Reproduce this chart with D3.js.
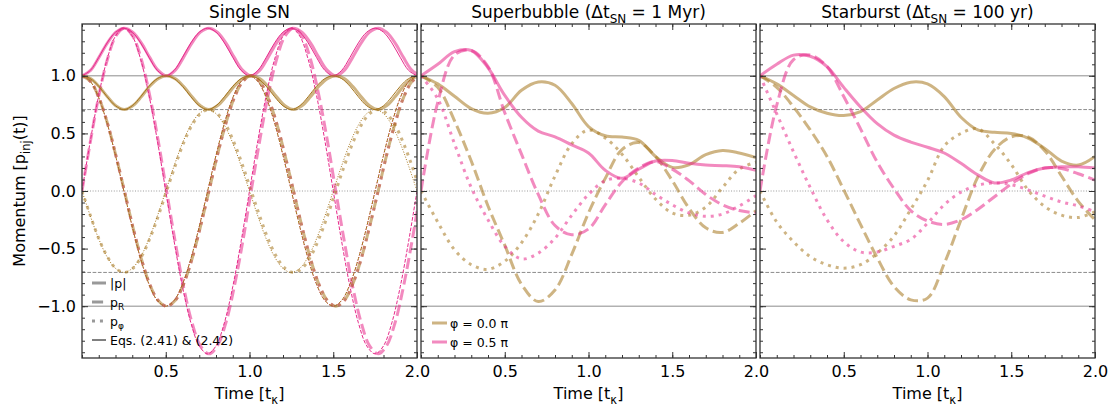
<!DOCTYPE html>
<html>
<head>
<meta charset="utf-8">
<script src="https://cdnjs.cloudflare.com/ajax/libs/d3/7.8.5/d3.min.js"></script>
<style>
  body { margin: 0; background: #fff; }
  svg text { font-family: "DejaVu Sans", sans-serif; fill: #000; }
</style>
</head>
<body>
<svg id="chart" width="1119" height="412"></svg>
<script>
// ---- data ----
var timeSingle = [0,0.05,0.1,0.15,0.2,0.25,0.3,0.35,0.4,0.45,0.5,0.55,0.6,0.65,0.7,0.75,0.8,0.85,0.9,0.95,
                  1,1.05,1.1,1.15,1.2,1.25,1.3,1.35,1.4,1.45,1.5,1.55,1.6,1.65,1.7,1.75,1.8,1.85,1.9,1.95,2];
// simulation curves of the single SN run lag the equations a little
var timeSingleSim = [0,0.051,0.101,0.152,0.202,0.253,0.303,0.354,0.404,0.455,0.505,0.556,0.606,0.657,0.707,0.758,
                     0.808,0.859,0.909,0.960,1.010,1.061,1.111,1.162,1.212,1.263,1.313,1.364,1.414,1.465,1.515,
                     1.566,1.616,1.667,1.717,1.768,1.818,1.869,1.919,1.970,2.020];

var singleGoldAbs = [1,0.976,0.909,0.818,0.74,0.707,0.74,0.818,0.909,0.976,
                     1,0.976,0.909,0.818,0.74,0.707,0.74,0.818,0.909,0.976,
                     1,0.976,0.909,0.818,0.74,0.707,0.74,0.818,0.909,0.976,
                     1,0.976,0.909,0.818,0.74,0.707,0.74,0.818,0.909,0.976,1];
var singleGoldR = [1,0.951,0.809,0.588,0.309,0,-0.309,-0.588,-0.809,-0.951,
                   -1,-0.951,-0.809,-0.588,-0.309,0,0.309,0.588,0.809,0.951,
                   1,0.951,0.809,0.588,0.309,0,-0.309,-0.588,-0.809,-0.951,
                   -1,-0.951,-0.809,-0.588,-0.309,0,0.309,0.588,0.809,0.951,1];
var singleGoldPhi = [0,-0.218,-0.416,-0.572,-0.672,-0.707,-0.672,-0.572,-0.416,-0.218,
                     0,0.218,0.416,0.572,0.672,0.707,0.672,0.572,0.416,0.218,
                     0,-0.218,-0.416,-0.572,-0.672,-0.707,-0.672,-0.572,-0.416,-0.218,
                     0,0.218,0.416,0.572,0.672,0.707,0.672,0.572,0.416,0.218,0];
var singlePinkAbs = [1,1.047,1.16,1.286,1.379,1.414,1.379,1.286,1.16,1.047,
                     1,1.047,1.16,1.286,1.379,1.414,1.379,1.286,1.16,1.047,
                     1,1.047,1.16,1.286,1.379,1.414,1.379,1.286,1.16,1.047,
                     1,1.047,1.16,1.286,1.379,1.414,1.379,1.286,1.16,1.047,1];
var singlePinkR = [0,0.437,0.831,1.144,1.345,1.414,1.345,1.144,0.831,0.437,
                   0,-0.437,-0.831,-1.144,-1.345,-1.414,-1.345,-1.144,-0.831,-0.437,
                   0,0.437,0.831,1.144,1.345,1.414,1.345,1.144,0.831,0.437,
                   0,-0.437,-0.831,-1.144,-1.345,-1.414,-1.345,-1.144,-0.831,-0.437,0];
var singlePinkPhi = [1,0.951,0.809,0.588,0.309,0,-0.309,-0.588,-0.809,-0.951,
                     -1,-0.951,-0.809,-0.588,-0.309,0,0.309,0.588,0.809,0.951,
                     1,0.951,0.809,0.588,0.309,0,-0.309,-0.588,-0.809,-0.951,
                     -1,-0.951,-0.809,-0.588,-0.309,0,0.309,0.588,0.809,0.951,1];

var timeRun = [0,0.1,0.2,0.3,0.4,0.5,0.6,0.7,0.8,0.9,1,1.1,1.2,1.3,1.4,1.5,1.6,1.7,1.8,1.9,2];

var bubbleGoldAbs = [1,0.93,0.823,0.716,0.675,0.725,0.875,0.947,0.918,0.76,0.56,0.48,0.468,0.44,0.3,0.205,0.228,0.315,0.352,0.33,0.29];
var bubbleGoldR   = [1,0.9,0.61,0.26,-0.13,-0.47,-0.81,-0.96,-0.86,-0.55,-0.19,0.11,0.36,0.42,0.3,0.09,-0.15,-0.32,-0.36,-0.28,-0.17];
var bubbleGoldPhi = [0,-0.27,-0.51,-0.64,-0.68,-0.61,-0.45,-0.2,0.13,0.41,0.53,0.46,0.32,0.12,-0.07,-0.19,-0.21,-0.14,0.03,0.19,0.25];
var bubblePinkAbs = [1,1.1,1.21,1.22,1.07,0.83,0.64,0.52,0.47,0.4,0.33,0.18,0.11,0.19,0.26,0.265,0.24,0.225,0.22,0.21,0.18];
var bubblePinkR   = [0,0.77,1.18,1.22,1.08,0.68,0.32,-0.03,-0.3,-0.38,-0.33,-0.12,0.08,0.2,0.255,0.19,0.09,-0.03,-0.12,-0.17,-0.19];
var bubblePinkPhi = [1,0.8,0.41,0.03,-0.25,-0.48,-0.59,-0.54,-0.41,-0.21,-0.03,0.09,0.11,0.07,-0.03,-0.12,-0.19,-0.22,-0.2,-0.13,-0.04];

var burstGoldAbs = [1,0.93,0.83,0.73,0.675,0.655,0.69,0.79,0.89,0.945,0.93,0.82,0.64,0.53,0.51,0.5,0.46,0.37,0.26,0.225,0.3];
var burstGoldR   = [1,0.9,0.73,0.53,0.3,0.01,-0.29,-0.58,-0.83,-0.945,-0.93,-0.63,-0.25,0.12,0.36,0.47,0.47,0.35,0.13,-0.09,-0.25];
var burstGoldPhi = [0,-0.27,-0.44,-0.57,-0.64,-0.67,-0.64,-0.54,-0.39,-0.16,0.09,0.39,0.5,0.54,0.41,0.23,0.01,-0.135,-0.21,-0.23,-0.18];
var burstPinkAbs = [1,1.1,1.18,1.17,1.08,0.9,0.73,0.585,0.485,0.425,0.38,0.33,0.24,0.14,0.07,0.095,0.16,0.2,0.21,0.21,0.2];
var burstPinkR   = [0,0.745,1.14,1.18,1.08,0.82,0.54,0.25,0.02,-0.17,-0.26,-0.29,-0.25,-0.16,-0.05,0.06,0.15,0.2,0.195,0.15,0.095];
var burstPinkPhi = [1,0.67,0.34,0.03,-0.25,-0.44,-0.53,-0.53,-0.48,-0.42,-0.28,-0.12,-0.01,0.05,0.07,0.055,0.01,-0.045,-0.095,-0.13,-0.18];

var xTicks = [0.5, 1.0, 1.5, 2.0];
var yTicks = [-1.0, -0.5, 0.0, 0.5, 1.0];
var refSolid = [-1, 1], refDashed = [-0.707, 0.707], refDotted = [0];

(function() {
  var svg = d3.select("#chart"),
      margin = {top: 24, left: 82},
      panelWidth = 335, panelGap = 4, panelHeight = 334;

  var gold = "#a6761d", pink = "#e7298a", thickAlpha = 0.55;

  var x = d3.scaleLinear().domain([0, 2]).range([0, panelWidth]),
      y = d3.scaleLinear().domain([-1.45, 1.45]).range([panelHeight, 0]);

  function dashFor(style, w) {
    if (style === "dashed") return (3.7 * w) + "," + (1.6 * w);
    if (style === "dotted") return (1 * w) + "," + (1.65 * w);
    return null;
  }

  var panels = [
    {title: [["Single SN"]], sim: [
      {t: timeSingleSim, v: singlePinkPhi, c: pink, s: "dotted"},
      {t: timeSingleSim, v: singlePinkAbs, c: pink, s: "solid"},
      {t: timeSingleSim, v: singlePinkR, c: pink, s: "dashed"},
      {t: timeSingleSim, v: singleGoldAbs, c: gold, s: "solid"},
      {t: timeSingleSim, v: singleGoldR, c: gold, s: "dashed"},
      {t: timeSingleSim, v: singleGoldPhi, c: gold, s: "dotted"}],
     eqs: [
      {t: timeSingle, v: singlePinkPhi, c: pink, s: "dotted"},
      {t: timeSingle, v: singlePinkAbs, c: pink, s: "solid"},
      {t: timeSingle, v: singlePinkR, c: pink, s: "dashed"},
      {t: timeSingle, v: singleGoldAbs, c: gold, s: "solid"},
      {t: timeSingle, v: singleGoldR, c: gold, s: "dashed"},
      {t: timeSingle, v: singleGoldPhi, c: gold, s: "dotted"}]},
    {title: [["Superbubble (Δt"], ["SN", 1], [" = 1 Myr)"]], sim: [
      {t: timeRun, v: bubbleGoldAbs, c: gold, s: "solid"},
      {t: timeRun, v: bubbleGoldR, c: gold, s: "dashed"},
      {t: timeRun, v: bubbleGoldPhi, c: gold, s: "dotted"},
      {t: timeRun, v: bubblePinkAbs, c: pink, s: "solid"},
      {t: timeRun, v: bubblePinkR, c: pink, s: "dashed"},
      {t: timeRun, v: bubblePinkPhi, c: pink, s: "dotted"}], eqs: []},
    {title: [["Starburst (Δt"], ["SN", 1], [" = 100 yr)"]], sim: [
      {t: timeRun, v: burstGoldAbs, c: gold, s: "solid"},
      {t: timeRun, v: burstGoldR, c: gold, s: "dashed"},
      {t: timeRun, v: burstGoldPhi, c: gold, s: "dotted"},
      {t: timeRun, v: burstPinkAbs, c: pink, s: "solid"},
      {t: timeRun, v: burstPinkR, c: pink, s: "dashed"},
      {t: timeRun, v: burstPinkPhi, c: pink, s: "dotted"}], eqs: []}
  ];

  function richText(sel, parts, size, subSize) {
    parts.forEach(function(p) {
      var ts = sel.append("tspan").text(p[0]);
      if (p[1]) ts.attr("font-size", subSize).attr("dy", size * 0.3);
      else ts.attr("font-size", size);
    });
    // undo the subscript shifts for following pieces
    var shift = 0;
    sel.selectAll("tspan").each(function(d, i) {
      var p = parts[i];
      if (p[1]) { shift += size * 0.3; }
      else if (shift) { d3.select(this).attr("dy", -shift); shift = 0; }
    });
    return sel;
  }

  function drawCurve(g, c, width, opacity) {
    var line = d3.line()
        .x(function(d, i) { return x(c.t[i]); })
        .y(function(d) { return y(d); })
        .curve(d3.curveCatmullRom.alpha(0.5));
    g.append("path")
        .datum(c.v)
        .attr("d", line)
        .attr("fill", "none")
        .attr("stroke", c.c)
        .attr("stroke-width", width)
        .attr("stroke-opacity", opacity)
        .attr("stroke-dasharray", dashFor(c.s, width));
  }

  var minorTicks = d3.range(0, 21).map(function(i) { return i / 10; }),
      minorY = d3.range(-14, 15).map(function(i) { return i / 10; });

  panels.forEach(function(p, k) {
    var x0 = margin.left + k * (panelWidth + panelGap);
    var g = svg.append("g")
        .attr("transform", "translate(" + x0 + "," + margin.top + ")");

    g.append("clipPath").attr("id", "clip" + k)
      .append("rect").attr("width", panelWidth).attr("height", panelHeight);

    var plot = g.append("g").attr("clip-path", "url(#clip" + k + ")");

    // reference levels
    function ref(vals, dash, color) {
      plot.selectAll(null).data(vals).enter().append("line")
          .attr("x1", 0).attr("x2", panelWidth)
          .attr("y1", function(d) { return y(d); })
          .attr("y2", function(d) { return y(d); })
          .attr("stroke", color).attr("stroke-width", 1)
          .attr("stroke-dasharray", dash);
    }
    ref(refSolid, null, "#8c8c8c");
    ref(refDashed, "3.7,1.6", "#8c8c8c");
    ref(refDotted, "1,1.65", "#9a9a9a");

    p.sim.forEach(function(c) { drawCurve(plot, c, 3, thickAlpha); });
    p.eqs.forEach(function(c) { drawCurve(plot, c, 1, 1); });

    // axes, ticks pointing inward on all sides
    function styleAxis(a) {
      a.select(".domain").remove();
      a.selectAll(".tick line").attr("stroke", "#333");
      a.selectAll(".tick text").attr("font-size", 16).attr("font-family", "DejaVu Sans");
    }
    g.append("g").attr("transform", "translate(0," + panelHeight + ")")
        .call(d3.axisBottom(x).tickValues(xTicks).tickSize(-6).tickPadding(8).tickFormat(d3.format(".1f")))
        .call(styleAxis);
    g.append("g").attr("transform", "translate(0," + panelHeight + ")")
        .call(d3.axisBottom(x).tickValues(minorTicks).tickSize(-3).tickFormat(""))
        .call(styleAxis);
    g.append("g")
        .call(d3.axisTop(x).tickValues(xTicks).tickSize(-6).tickFormat(""))
        .call(styleAxis);
    g.append("g")
        .call(d3.axisTop(x).tickValues(minorTicks).tickSize(-3).tickFormat(""))
        .call(styleAxis);
    g.append("g")
        .call(d3.axisLeft(y).tickValues(yTicks).tickSize(-6).tickPadding(6)
              .tickFormat(k === 0 ? d3.format(".1f") : ""))
        .call(styleAxis);
    g.append("g")
        .call(d3.axisLeft(y).tickValues(minorY).tickSize(-3).tickFormat(""))
        .call(styleAxis);
    g.append("g").attr("transform", "translate(" + panelWidth + ",0)")
        .call(d3.axisRight(y).tickValues(yTicks).tickSize(-6).tickFormat(""))
        .call(styleAxis);
    g.append("g").attr("transform", "translate(" + panelWidth + ",0)")
        .call(d3.axisRight(y).tickValues(minorY).tickSize(-3).tickFormat(""))
        .call(styleAxis);

    g.append("rect")
        .attr("width", panelWidth).attr("height", panelHeight)
        .attr("fill", "none").attr("stroke", "#333").attr("stroke-width", 1.3);

    richText(g.append("text")
        .attr("x", panelWidth / 2).attr("y", -6)
        .attr("text-anchor", "middle"), p.title, 17, 12);

    richText(g.append("text")
        .attr("x", panelWidth / 2).attr("y", panelHeight + 41)
        .attr("text-anchor", "middle"), [["Time [t"], ["κ", 1], ["]"]], 16, 11.5);

    if (k === 0) {
      var legend = [
        {label: [["|p|"]], c: "#808080", w: 3, s: "solid", a: 0.8},
        {label: [["p"], ["R", 1]], c: "#808080", w: 3, s: "dashed", a: 0.8},
        {label: [["p"], ["φ", 1]], c: "#808080", w: 3, s: "dotted", a: 0.8},
        {label: [["Eqs. (2.41) & (2.42)"]], c: "#000", w: 1, s: "solid", a: 1}];
      legend.forEach(function(l, i) {
        var ly = 259 + i * 19;
        g.append("line").attr("x1", 10).attr("x2", 24).attr("y1", ly).attr("y2", ly)
            .attr("stroke", l.c).attr("stroke-width", l.w).attr("stroke-opacity", l.a)
            .attr("stroke-dasharray", dashFor(l.s, l.w));
        richText(g.append("text").attr("x", 28).attr("y", ly + 4.5), l.label, 12.5, 9);
      });

      richText(g.append("text")
          .attr("transform", "translate(-57," + (panelHeight / 2) + ") rotate(-90)")
          .attr("text-anchor", "middle"), [["Momentum [p"], ["inj", 1], ["(t)]"]], 16, 11.5);
    }
    if (k === 1) {
      [[["φ = 0.0 π"]], [["φ = 0.5 π"]]].forEach(function(lab, i) {
        var ly = 299 + i * 19;
        g.append("line").attr("x1", 11).attr("x2", 26).attr("y1", ly).attr("y2", ly)
            .attr("stroke", i ? pink : gold).attr("stroke-width", 3).attr("stroke-opacity", thickAlpha);
        richText(g.append("text").attr("x", 29).attr("y", ly + 4.5), lab, 12.5, 9);
      });
    }
  });
})();
</script>
</body>
</html>
